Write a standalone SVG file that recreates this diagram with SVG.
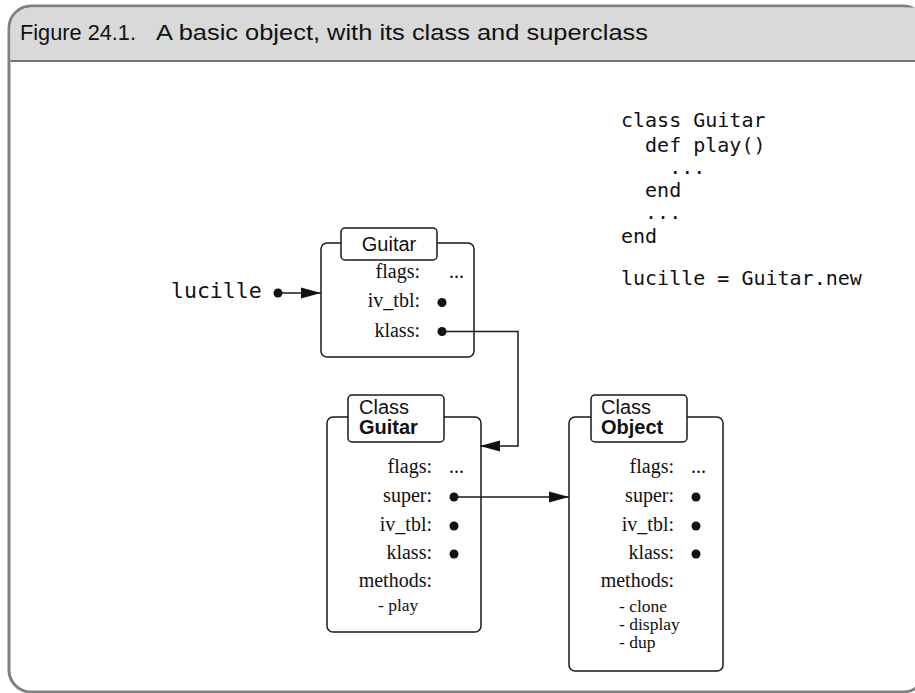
<svg xmlns="http://www.w3.org/2000/svg" width="915" height="693" viewBox="0 0 915 693">
<style>
.frame{fill:#fff;stroke:#808080;stroke-width:3}
.hdr{fill:#d9d9d9}
.hline{stroke:#4a4a4a;stroke-width:1.5}
.title{font-family:"Liberation Sans",Arial,sans-serif;font-size:22px;fill:#111}
.code{font-family:"DejaVu Sans Mono",monospace;font-size:20px;fill:#111;white-space:pre}
.box{fill:#fff;stroke:#1a1a1a;stroke-width:1.5}
.lbl{font-family:"Liberation Sans",Arial,sans-serif;font-size:20px;fill:#111}
.b{font-weight:bold}
.fld{font-family:"Liberation Serif","Times New Roman",serif;font-size:20px;fill:#111;text-anchor:end}
.val{font-family:"Liberation Serif","Times New Roman",serif;font-size:20px;fill:#111}
.meth{font-family:"Liberation Serif","Times New Roman",serif;font-size:17.5px;fill:#111}
.dot{fill:#111}
.conn{fill:none;stroke:#1a1a1a;stroke-width:1.5}
</style>
<defs>
<marker id="arr" markerUnits="userSpaceOnUse" markerWidth="21" markerHeight="12" refX="20" refY="6" orient="auto">
<path d="M0,0.5 L20,6 L0,11.5 z" fill="#111"/>
</marker>
</defs>
<g id="frame">
<rect class="frame" x="9" y="6" width="916" height="686" rx="22"/>
<path class="hdr" d="M10.5,61 V28 A20.5,20.5 0 0 1 31,7.5 H915 V61 z"/>
<line class="hline" x1="10.5" y1="61" x2="915" y2="61"/>
<text class="title" x="20" y="40" textLength="116" lengthAdjust="spacingAndGlyphs">Figure 24.1.</text>
<text class="title" x="156" y="40" textLength="492" lengthAdjust="spacingAndGlyphs">A basic object, with its class and superclass</text>
</g>
<g id="code">
<text class="code" x="621" y="127">class Guitar</text>
<text class="code" x="621" y="152" xml:space="preserve">  def play()</text>
<text class="code" x="621" y="174" xml:space="preserve">    ...</text>
<text class="code" x="621" y="197" xml:space="preserve">  end</text>
<text class="code" x="621" y="219" xml:space="preserve">  ...</text>
<text class="code" x="621" y="243">end</text>
<text class="code" x="621" y="285">lucille = Guitar.new</text>
</g>
<g id="lucille">
<text class="code" x="171" y="298" style="font-size:21.5px">lucille</text>
<circle class="dot" cx="278" cy="293" r="4.5"/>
</g>
<g id="guitar-object">
<rect class="box" x="321" y="243" width="153" height="114" rx="6"/>
<rect class="box" x="341" y="228" width="96" height="32" rx="4"/>
<text class="lbl" x="389" y="251" text-anchor="middle">Guitar</text>
<text class="fld" x="420" y="278">flags:</text>
<text class="val" x="449" y="278">...</text>
<text class="fld" x="420" y="307">iv_tbl:</text>
<circle class="dot" cx="442" cy="302.5" r="4.5"/>
<text class="fld" x="420" y="337">klass:</text>
<circle class="dot" cx="442" cy="331.5" r="4.5"/>
</g>
<g id="class-guitar">
<rect class="box" x="327" y="417" width="154" height="215" rx="6"/>
<rect class="box" x="348" y="395" width="96" height="47" rx="4"/>
<text class="lbl" x="359" y="414">Class</text>
<text class="lbl b" x="359" y="434">Guitar</text>
<text class="fld" x="432" y="473">flags:</text>
<text class="val" x="449" y="473">...</text>
<text class="fld" x="432" y="502">super:</text>
<circle class="dot" cx="454" cy="497" r="4.5"/>
<text class="fld" x="432" y="531">iv_tbl:</text>
<circle class="dot" cx="454" cy="526" r="4.5"/>
<text class="fld" x="432" y="559">klass:</text>
<circle class="dot" cx="454" cy="554" r="4.5"/>
<text class="fld" x="432" y="587">methods:</text>
<text class="meth" x="378" y="611">- play</text>
</g>
<g id="class-object">
<rect class="box" x="569" y="417" width="154" height="254" rx="6"/>
<rect class="box" x="591" y="395" width="96" height="47" rx="4"/>
<text class="lbl" x="601" y="414">Class</text>
<text class="lbl b" x="601" y="434">Object</text>
<text class="fld" x="674" y="473">flags:</text>
<text class="val" x="691" y="473">...</text>
<text class="fld" x="674" y="502">super:</text>
<circle class="dot" cx="696" cy="497" r="4.5"/>
<text class="fld" x="674" y="531">iv_tbl:</text>
<circle class="dot" cx="696" cy="526" r="4.5"/>
<text class="fld" x="674" y="559">klass:</text>
<circle class="dot" cx="696" cy="554" r="4.5"/>
<text class="fld" x="674" y="587">methods:</text>
<text class="meth" x="619" y="612">- clone</text>
<text class="meth" x="619" y="630">- display</text>
<text class="meth" x="619" y="648">- dup</text>
</g>
<g id="connectors">
<path class="conn" d="M278,293 H321" marker-end="url(#arr)"/>
<path class="conn" d="M442,331.5 H518 V446 H480" marker-end="url(#arr)"/>
<path class="conn" d="M454,497 H569" marker-end="url(#arr)"/>
</g>
</svg>
